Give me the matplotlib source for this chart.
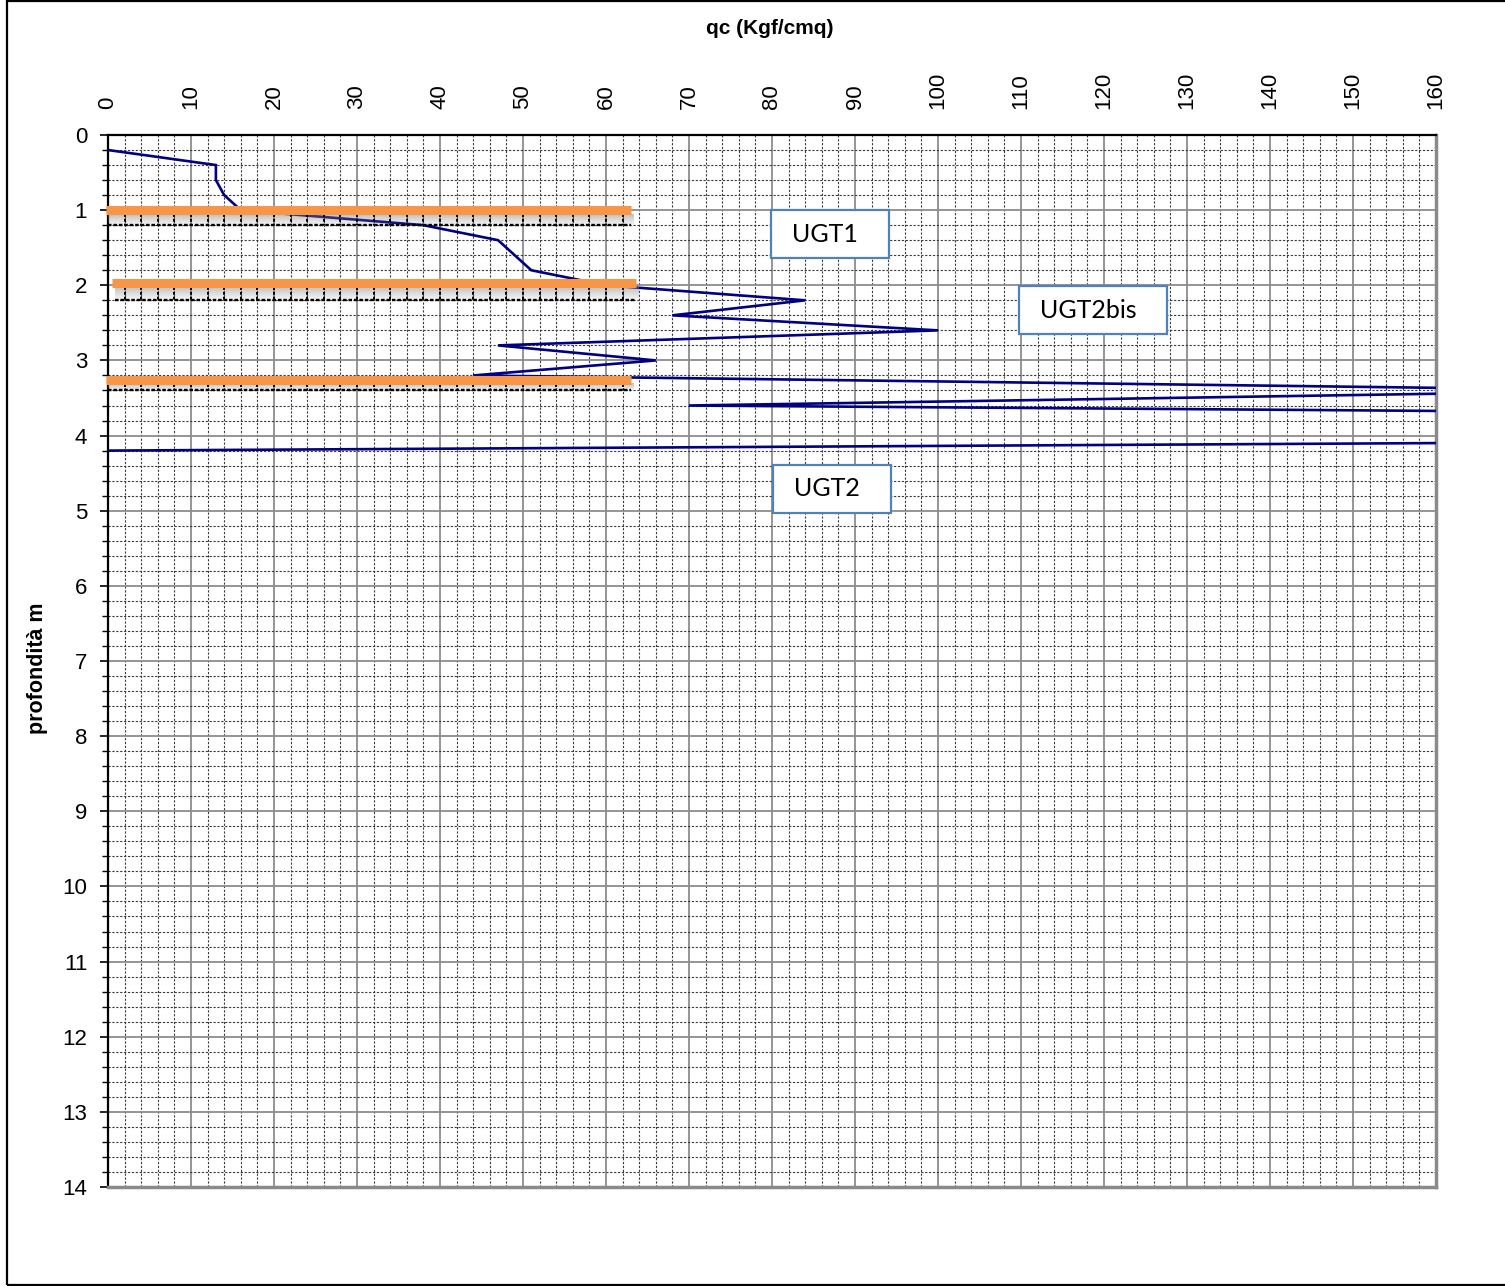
import numpy as np
import matplotlib
matplotlib.use("Agg")
import matplotlib.pyplot as plt
from matplotlib.patches import Rectangle
from matplotlib.ticker import MultipleLocator

# CPT profile: cone resistance qc (Kgf/cmq) vs depth (m)
depth = [0.2, 0.4, 0.6, 0.8, 1.0, 1.2, 1.4, 1.6, 1.8, 2.0, 2.2, 2.4, 2.6,
         2.8, 3.0, 3.2, 3.4, 3.6, 3.8, 4.0, 4.2]
qc = [0, 13, 13, 14, 16, 38, 47, 49, 51, 60, 84, 68, 100,
      47, 66, 44, 185, 70, 320, 320, 0]

# layer boundaries (depth, qc start, qc end, grid line darkened by shadow)
boundary_depth = [1.0, 1.97, 3.26]
boundary_x0 = [-0.3, 0.5, -0.3]
boundary_x1 = [63.0, 63.6, 63.0]
shadow_grid = [1.2, 2.2, 3.4]

# geotechnical unit boxes (qc left/right, depth top/bottom)
unit_names = ["UGT1", "UGT2bis", "UGT2"]
unit_left = [79.9, 109.8, 80.1]
unit_right = [94.1, 127.6, 94.3]
unit_top = [1.00, 2.01, 4.39]
unit_bottom = [1.64, 2.65, 5.03]

x_ticks = list(range(0, 161, 10))
y_ticks = list(range(0, 15))

plt.rcParams['font.family'] = ['Liberation Sans', 'DejaVu Sans']

W, H = 1505, 1286
fig = plt.figure(figsize=(W / 100, H / 100), dpi=100)
ax = fig.add_axes([108 / W, 1 - 1187 / H, (1436 - 108) / W, (1187 - 135) / H])

ax.set_xlim(0, 160)
ax.set_ylim(14, 0)

# grid
ax.xaxis.set_major_locator(MultipleLocator(10))
ax.xaxis.set_minor_locator(MultipleLocator(2))
ax.yaxis.set_major_locator(MultipleLocator(1))
ax.yaxis.set_minor_locator(MultipleLocator(0.2))
ax.grid(which='minor', color='#3a3a3a', linestyle=(0, (2, 1.5)), linewidth=0.8)
ax.grid(which='major', color='#8c8c8c', linestyle='-', linewidth=1.3)
ax.set_axisbelow(True)

ax.xaxis.tick_top()
ax.set_xticks(x_ticks)
ax.set_xticklabels([str(v) for v in x_ticks], rotation=90, fontsize=16)
ax.set_yticks(y_ticks)
ax.set_yticklabels([str(v) for v in y_ticks], fontsize=16)
ax.tick_params(axis='x', which='both', length=0, pad=19)
ax.tick_params(axis='y', which='major', length=6, width=1.2, direction='out', pad=9)
ax.tick_params(axis='y', which='minor', length=4, width=1.0, direction='out')

for side in ['left', 'top']:
    ax.spines[side].set_color('black')
    ax.spines[side].set_linewidth(1.6)
for side in ['right', 'bottom']:
    ax.spines[side].set_color('#8a8a8a')
    ax.spines[side].set_linewidth(2.5)

fig.text(770 / W, 1 - 29 / H, 'qc (Kgf/cmq)', fontsize=15, fontweight='bold',
         ha='center', va='center')
fig.text(37 / W, 1 - 668 / H, 'profondità m', fontsize=15.5, fontweight='bold',
         rotation=90, ha='center', va='center')

# profile line
ax.plot(qc, depth, color='#000080', linewidth=1.9, zorder=4, solid_joinstyle='miter')

# layer boundaries with a soft drop shadow
grad = np.linspace(0.5, 0.0, 50).reshape(-1, 1)
for yb, x0, x1, ys in zip(boundary_depth, boundary_x0, boundary_x1, shadow_grid):
    rgba = np.zeros((50, 1, 4))
    rgba[..., :3] = 0.5
    rgba[..., 3] = grad
    ax.imshow(rgba, extent=[x0 + 0.3, x1 + 0.3, ys + 0.02, yb + 0.05],
              aspect='auto', zorder=5, interpolation='bilinear')
    # grid darkened under the shadow
    ax.plot([x0 + 0.3, x1], [ys, ys], color='black', linestyle=(0, (1.5, 0.8)),
            linewidth=1.7, zorder=5)
    for xv in np.arange(2, x1, 2):
        ax.plot([xv, xv], [yb + 0.05, ys], color='black', linestyle=(0, (1.5, 1)),
                linewidth=1.4, zorder=5)
    ax.plot([x0, x1], [yb, yb], color='#F79646', linewidth=6.5,
            solid_capstyle='butt', zorder=6, clip_on=False)

# unit label boxes
for name, l, r, t, b in zip(unit_names, unit_left, unit_right, unit_top, unit_bottom):
    ax.add_patch(Rectangle((l, t), r - l, b - t, facecolor='white',
                           edgecolor='#4F81BD', linewidth=1.6, zorder=7))
    ax.text(l + 2.5, (t + b) / 2, name, fontsize=18, family=['Lato', 'DejaVu Sans'],
            ha='left', va='center', zorder=8)

# outer chart frame
fig.patches.append(Rectangle((7 / W, 1 / H), 1.2, 1 - 2 / H, transform=fig.transFigure,
                             fill=False, edgecolor='black', linewidth=1.6))

fig.savefig('out.png', dpi=100)
